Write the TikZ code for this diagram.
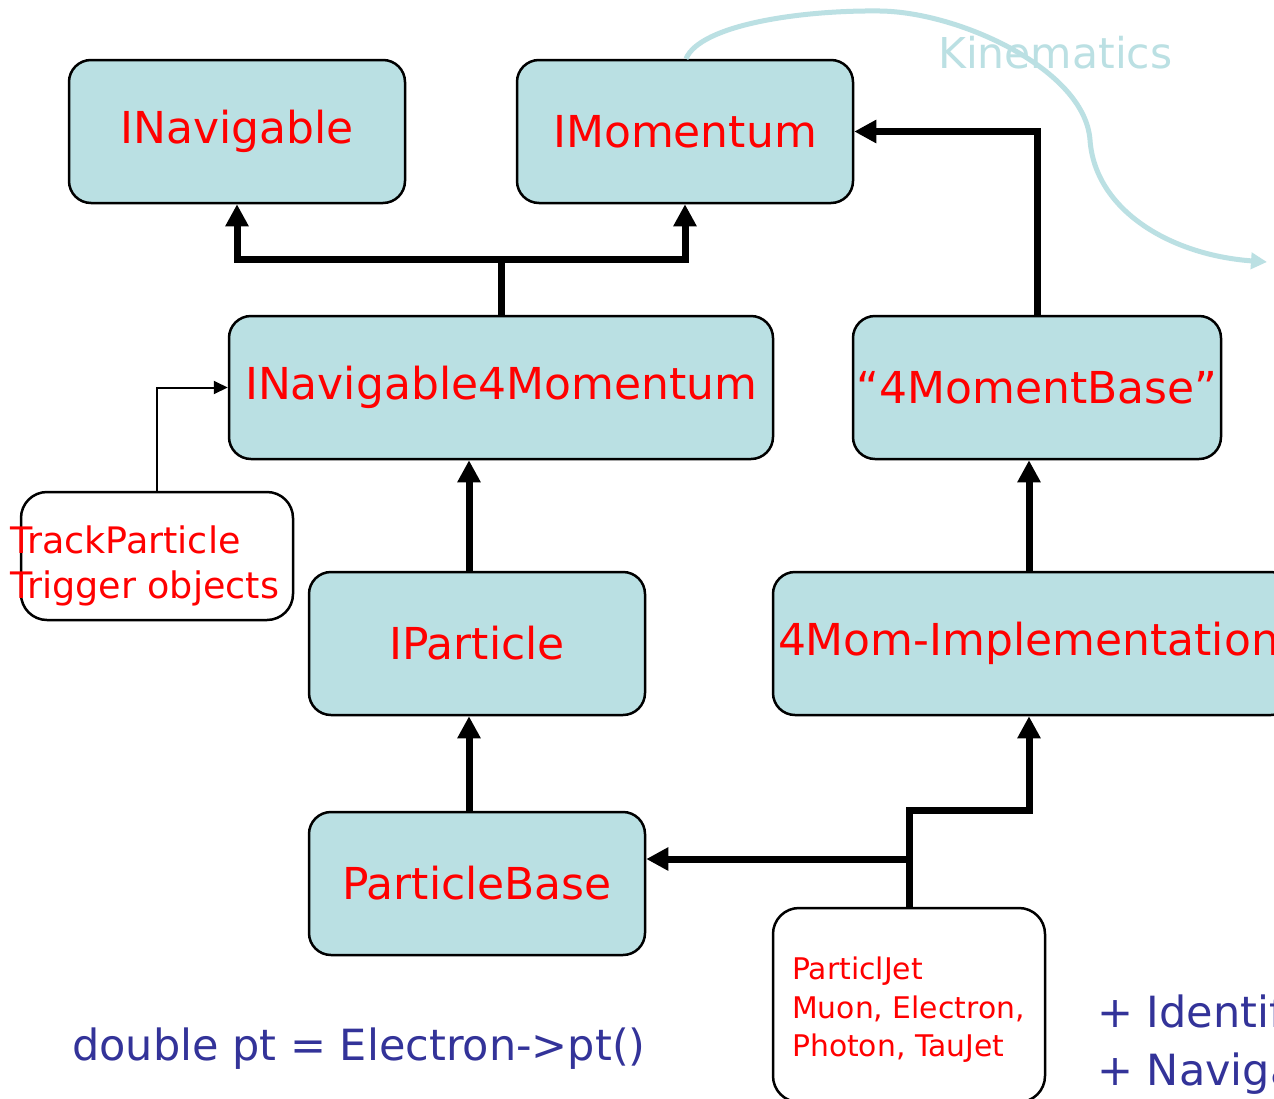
\documentclass[tikz,border=0pt]{standalone}
\usepackage{fontspec}
\setmainfont{DejaVu Sans}
\usetikzlibrary{arrows.meta}
\definecolor{boxfill}{HTML}{BAE0E3}
\definecolor{txtred}{HTML}{FF0000}
\definecolor{navy}{HTML}{333399}
\definecolor{kin}{HTML}{BBE0E3}
\tikzset{
 cls/.style={draw=black, line width=2.5pt, fill=boxfill, rounded corners=22pt, text=txtred, font=\fontsize{44}{52}\selectfont, inner sep=0pt, minimum height=143pt},
 note/.style={draw=black, line width=2.5pt, fill=white, rounded corners=26pt, inner sep=0pt},
 notetext/.style={text=txtred, align=left, anchor=west, inner sep=0pt},
 bluetext/.style={text=navy, anchor=base west, inner sep=0pt, font=\fontsize{43}{52}\selectfont},
 conn/.style={line width=7pt, draw=black},
 arr/.style={-{Triangle[length=22pt,width=22pt]}},
 thinconn/.style={line width=2pt, -{Triangle[length=14pt,width=13pt]}},
}
\begin{document}
\begin{tikzpicture}[x=1pt,y=-1pt]
\useasboundingbox (0,0) rectangle (1274,1098);
\clip (0,0) rectangle (1274,1098);
\fill[white] (0,0) rectangle (1274,1098);

% class boxes
\node[cls, minimum width=336pt] (inav) at (237,131.5) {INavigable};
\node[cls, minimum width=336pt] (imom) at (685,131.5) {IMomentum};
\node[cls, minimum width=544pt] (i4m) at (501,387.5) {INavigable4Momentum};
\node[cls, minimum width=368pt] (mb) at (1037,387.5) {“4MomentBase”};
\node[cls, minimum width=336pt] (ipart) at (477,643.5) {IParticle};
\node[cls, minimum width=520pt, text width=510pt, align=left] (impl) at (1033,643.5) {4Mom-Implementation};
\node[cls, minimum width=336pt] (pbase) at (477,883.5) {ParticleBase};

% note boxes
\node[note, minimum width=272pt, minimum height=128pt] (track) at (157,556) {};
\node[notetext, font=\fontsize{36.5}{45}\selectfont] (tracktxt) at (10,566) {TrackParticle\\Trigger objects};
\node[note, minimum width=272pt, minimum height=194pt] (pj) at (909,1005) {};
\node[notetext, font=\fontsize{29.8}{38.5}\selectfont] (pjtxt) at (792,1010) {ParticlJet\\Muon, Electron,\\Photon, TauJet};

% texts
\node[bluetext] (code) at (72,1060) {double pt = Electron->pt()};
\node[bluetext] (ident) at (1097,1027) {+ Identification};
\node[bluetext] (navig) at (1097,1085) {+ Navigation};
\node[anchor=base west, inner sep=0pt, text=kin, font=\fontsize{42.5}{50}\selectfont] (kinlbl) at (938,68) {Kinematics};

% connectors
\coordinate (j) at (501,259);
\draw[conn] (i4m.north) -- (j);
\draw[conn, arr] (j) -| (inav.south);
\draw[conn, arr] (j) -| (imom.south);
\draw[conn, arr] (mb.north) |- (imom.east);
\draw[conn, arr] ([xshift=-8pt]ipart.north) -- ([xshift=-32pt]i4m.south);
\draw[conn, arr] ([xshift=-8pt]pbase.north) -- ([xshift=-8pt]ipart.south);
\draw[conn, arr] ([xshift=-4pt]impl.north) -- ([xshift=-8pt]mb.south);
\draw[conn, arr] (pj.north) -- (pj.north |- pbase.north) -| ([xshift=-4pt]impl.south);
\coordinate (b) at (909,859);
\draw[conn, arr] (b) -- (pbase.east |- b);
\draw[thinconn] (track.north) |- (i4m.west);

% kinematics curve
\coordinate (kinend) at (1267,262);
\draw[kin, line width=5pt, -{Triangle[length=16pt,width=16pt]}]
  ([xshift=1pt]imom.north) .. controls (700,25) and (800,10) .. (880,11)
  .. controls (960,12) and (1085,70) .. (1090,140)
  .. controls (1095,210) and (1170,255) .. (kinend);
\end{tikzpicture}
\end{document}
